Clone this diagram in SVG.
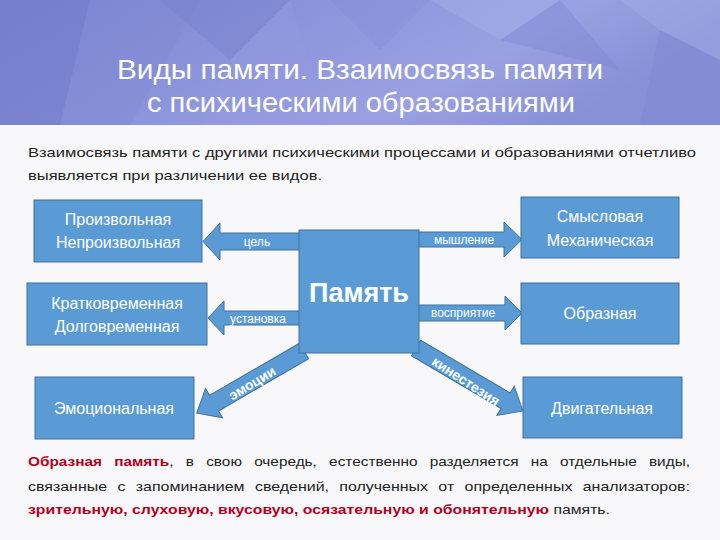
<svg xmlns="http://www.w3.org/2000/svg" width="720" height="540" viewBox="0 0 720 540">
<defs>
<linearGradient id="hdr" x1="0" y1="0" x2="1" y2="0.3">
<stop offset="0" stop-color="#7a84d0"/>
<stop offset="0.45" stop-color="#8d95dc"/>
<stop offset="0.75" stop-color="#9aa1e2"/>
<stop offset="1" stop-color="#8890d6"/>
</linearGradient>
<style>
.box{fill:#5b9bd5;stroke:#41719c;stroke-width:1}
.arr{fill:#5b9bd5;stroke:#41719c;stroke-width:1}
.bt{fill:#ffffff;font-family:"Liberation Sans",Arial,sans-serif;font-size:16px;text-anchor:middle}
.big{font-size:27px;font-weight:bold}
.al{fill:#ffffff;font-family:"Liberation Sans",Arial,sans-serif;font-size:12px;text-anchor:middle}
.dl{font-size:14px;font-weight:bold}
.body{fill:#222222;font-family:"Liberation Sans",Arial,sans-serif;font-size:13.5px}
.red{fill:#b0001e;font-weight:bold}
.title{fill:#ffffff;font-family:"Liberation Sans",Arial,sans-serif;font-size:28px;text-anchor:middle}
</style>
</defs>
<rect x="0" y="0" width="720" height="540" fill="#f8f8fb"/>
<g id="header">
<rect x="0" y="0" width="720" height="125" fill="url(#hdr)"/>
<polygon points="0,0 90,0 60,125 0,125" fill="#6f78c8" opacity="0.5"/>
<polygon points="90,0 200,0 130,125 60,125" fill="#8088d2" opacity="0.4"/>
<polygon points="160,0 290,0 230,60" fill="#7880cc" opacity="0.45"/>
<polygon points="230,60 290,0 330,125 200,125" fill="#959ce0" opacity="0.35"/>
<polygon points="430,0 560,0 500,40" fill="#a7ade8" opacity="0.5"/>
<polygon points="500,40 560,0 620,70" fill="#7d85d0" opacity="0.4"/>
<polygon points="620,0 720,0 720,60 660,30" fill="#a3a9e6" opacity="0.5"/>
<polygon points="660,30 720,60 720,125 640,125" fill="#7f87d2" opacity="0.45"/>
<polygon points="330,0 430,0 380,50" fill="#858dd6" opacity="0.35"/>
<text class="title" x="360" y="79" textLength="486" lengthAdjust="spacingAndGlyphs">Виды памяти. Взаимосвязь памяти</text>
<text class="title" x="361" y="112" textLength="428" lengthAdjust="spacingAndGlyphs">с психическими образованиями</text>
</g>
<g id="intro">
<text class="body" x="28" y="157" textLength="668" lengthAdjust="spacingAndGlyphs">Взаимосвязь памяти с другими психическими процессами и образованиями отчетливо</text>
<text class="body" x="28" y="180" textLength="294" lengthAdjust="spacingAndGlyphs">выявляется при различении ее видов.</text>
</g>
<g id="connectors">
<g id="arrow-tsel">
<polygon class="arr" points="305,233 220,233 220,223 203,241.5 220,260 220,250 305,250"/>
<text class="al" x="257" y="246">цель</text>
</g>
<g id="arrow-ustanovka">
<polygon class="arr" points="305,311 224,311 224,301 208,318 224,335 224,325 305,325"/>
<text class="al" x="258" y="323">установка</text>
</g>
<g id="arrow-myshlenie">
<polygon class="arr" points="414,232 504,232 504,222 522,239.5 504,257 504,247 414,247"/>
<text class="al" x="464" y="244">мышление</text>
</g>
<g id="arrow-vospriyatie">
<polygon class="arr" points="414,305 505,305 505,296 522,313 505,330 505,321 414,321"/>
<text class="al" x="463" y="317">восприятие</text>
</g>
<g id="arrow-emocii">
<polygon class="arr" transform="translate(304,351) rotate(149.9)" points="0,-9 104,-9 104,-17 124,0 104,17 104,9 0,9"/>
<text class="al dl" transform="translate(252,383) rotate(-31)" y="5">эмоции</text>
</g>
<g id="arrow-kinesteziya">
<polygon class="arr" transform="translate(416,348) rotate(30.5)" points="0,-9 104,-9 104,-17 124,0 104,17 104,9 0,9"/>
<text class="al dl" transform="translate(466,381) rotate(33)" y="5">кинестезия</text>
</g>
</g>
<g id="node-proizvolnaya">
<rect class="box" x="34" y="200" width="168" height="62"/>
<text class="bt" x="118" y="225">Произвольная</text>
<text class="bt" x="118" y="248">Непроизвольная</text>
</g>
<g id="node-kratkovremennaya">
<rect class="box" x="27" y="283" width="180" height="62"/>
<text class="bt" x="117" y="309">Кратковременная</text>
<text class="bt" x="117" y="332">Долговременная</text>
</g>
<g id="node-emocionalnaya">
<rect class="box" x="35" y="377" width="159" height="62"/>
<text class="bt" x="114" y="414">Эмоциональная</text>
</g>
<g id="node-pamyat">
<rect class="box" x="299" y="230" width="120" height="123"/>
<text class="bt big" x="359" y="302">Память</text>
</g>
<g id="node-smyslovaya">
<rect class="box" x="521" y="197" width="158" height="61"/>
<text class="bt" x="600" y="222">Смысловая</text>
<text class="bt" x="600" y="246">Механическая</text>
</g>
<g id="node-obraznaya">
<rect class="box" x="521" y="283" width="158" height="61"/>
<text class="bt" x="600" y="319">Образная</text>
</g>
<g id="node-dvigatelnaya">
<rect class="box" x="523" y="377" width="159" height="61"/>
<text class="bt" x="602" y="414">Двигательная</text>
</g>
<g id="footer-text">
<text class="body" x="28" y="466" word-spacing="7" textLength="662" lengthAdjust="spacingAndGlyphs"><tspan class="red">Образная память</tspan>, в свою очередь, естественно разделяется на отдельные виды,</text>
<text class="body" x="28" y="491" word-spacing="5" textLength="662" lengthAdjust="spacingAndGlyphs">связанные с запоминанием сведений, полученных от определенных анализаторов:</text>
<text class="body" x="28" y="514" textLength="582" lengthAdjust="spacingAndGlyphs"><tspan class="red">зрительную, слуховую, вкусовую, осязательную и обонятельную</tspan> память.</text>
</g>
</svg>
